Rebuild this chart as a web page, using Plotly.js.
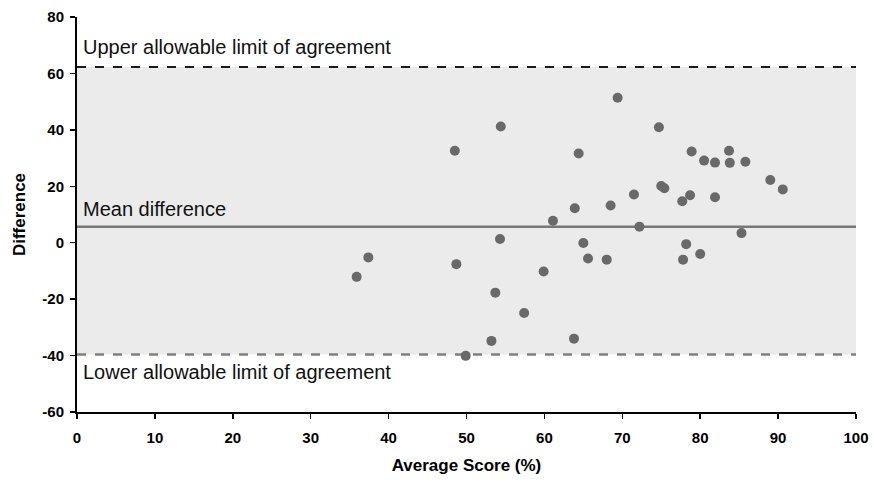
<!DOCTYPE html>
<html>
<head>
<meta charset="utf-8">
<script src="https://cdn.plot.ly/plotly-3.0.1.min.js"></script>
<style>html,body{margin:0;padding:0;background:#fff}#chart{width:874px;height:484px}</style>
</head>
<body>
<div id="chart"></div>
<script>
// Data
const averageScore = [35.9, 37.4, 48.5, 48.7, 49.9, 53.2, 53.7, 54.3, 54.4, 57.4,
  59.9, 61.1, 63.8, 63.9, 64.4, 65.0, 65.6, 68.0, 68.5, 69.4,
  71.5, 72.2, 74.7, 75.0, 75.4, 77.7, 77.8, 78.2, 78.7, 78.9,
  80.0, 80.5, 81.9, 81.9, 83.7, 83.8, 85.3, 85.8, 89.0, 90.6];
const difference = [-12.1, -5.2, 32.6, -7.6, -40.1, -34.8, -17.7, 1.3, 41.2, -24.9,
  -10.2, 7.8, -34.0, 12.2, 31.6, -0.1, -5.6, -6.0, 13.2, 51.4,
  17.1, 5.7, 40.9, 20.1, 19.3, 14.7, -6.0, -0.5, 16.8, 32.3,
  -4.0, 29.1, 28.4, 16.1, 32.6, 28.3, 3.4, 28.7, 22.2, 18.9];
const meanDifference = 5.7;
const upperLimit = 62.3;
const lowerLimit = -39.6;
const labelTexts = ["Upper allowable limit of agreement", "Mean difference", "Lower allowable limit of agreement"];
const xTicks = [0, 10, 20, 30, 40, 50, 60, 70, 80, 90, 100];
const yTicks = [-60, -40, -20, 0, 20, 40, 60, 80];

const FONT = "Liberation Sans, Arial, sans-serif";

const trace = {
  x: averageScore, y: difference, type: "scatter", mode: "markers",
  marker: {color: "#696969", size: 10},
  hoverinfo: "x+y", showlegend: false, cliponaxis: false
};

const layout = {
  width: 874, height: 484,
  margin: {l: 77, r: 18, t: 17, b: 72},
  paper_bgcolor: "#ffffff", plot_bgcolor: "#ffffff",
  font: {family: FONT, color: "#000"},
  showlegend: false,
  xaxis: {
    range: [0, 100], tickvals: xTicks, ticktext: xTicks.map(String),
    showgrid: false, zeroline: false, showline: true, linecolor: "#000", linewidth: 2,
    ticks: "outside", ticklen: 5, tickwidth: 1.5, tickcolor: "#000", ticklabelstandoff: 6,
    tickfont: {family: FONT, size: 15, color: "#000", weight: "bold"},
    title: {text: "<b>Average Score (%)</b>", font: {family: FONT, size: 17, color: "#000"}, standoff: 14}
  },
  yaxis: {
    range: [-60, 80], tickvals: yTicks, ticktext: yTicks.map(String),
    showgrid: false, zeroline: false, showline: true, linecolor: "#000", linewidth: 2,
    ticks: "outside", ticklen: 5, tickwidth: 1.5, tickcolor: "#000", ticklabelstandoff: 3,
    tickfont: {family: FONT, size: 15, color: "#000", weight: "bold"},
    title: {text: "<b>Difference</b>", font: {family: FONT, size: 17, color: "#000"}, standoff: 12}
  },
  shapes: [
    {type: "rect", xref: "x", yref: "y", x0: 0, x1: 100, y0: lowerLimit, y1: upperLimit,
     fillcolor: "#ebebeb", line: {width: 0}, layer: "below"},
    {type: "line", xref: "x", yref: "y", x0: 0, x1: 100, y0: upperLimit, y1: upperLimit,
     line: {color: "#1a1a1a", width: 2, dash: "dash"}, layer: "below"},
    {type: "line", xref: "x", yref: "y", x0: 0, x1: 100, y0: meanDifference, y1: meanDifference,
     line: {color: "#777777", width: 2.5}, layer: "below"},
    {type: "line", xref: "x", yref: "y", x0: 0, x1: 100, y0: lowerLimit, y1: lowerLimit,
     line: {color: "#808080", width: 2.5, dash: "dash"}, layer: "below"}
  ],
  annotations: [
    {x: 0.5, y: upperLimit, xref: "x", yref: "y", xanchor: "left", yanchor: "bottom", yshift: 7,
     text: labelTexts[0], showarrow: false, font: {family: FONT, size: 20, color: "#111"}},
    {x: 0.5, y: meanDifference, xref: "x", yref: "y", xanchor: "left", yanchor: "bottom", yshift: 5,
     text: labelTexts[1], showarrow: false, font: {family: FONT, size: 20, color: "#111"}},
    {x: 0.5, y: lowerLimit, xref: "x", yref: "y", xanchor: "left", yanchor: "top", yshift: -5,
     text: labelTexts[2], showarrow: false, font: {family: FONT, size: 20, color: "#111"}}
  ]
};

Plotly.newPlot("chart", [trace], layout, {displayModeBar: false, staticPlot: true});
</script>
</body>
</html>
